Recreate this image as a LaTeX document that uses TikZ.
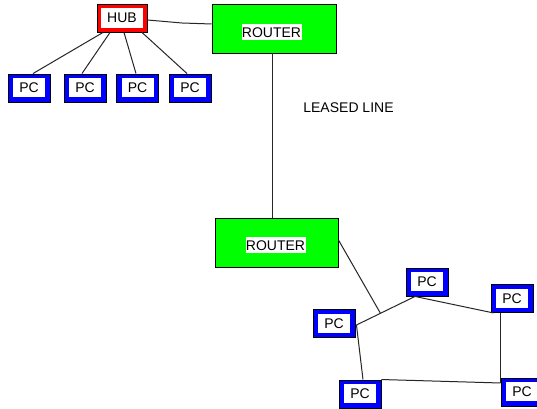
\documentclass[tikz,border=0pt]{standalone}
\usepackage{fontspec}
\setmainfont{Liberation Sans}
\usetikzlibrary{calc}
\definecolor{pcblue}{RGB}{0,0,255}
\definecolor{hubred}{RGB}{255,0,0}
\definecolor{rgreen}{RGB}{0,255,0}
\begin{document}
\begin{tikzpicture}[x=0.75pt,y=-0.75pt,
  frame/.style={draw=black, line width=0.7pt, inner sep=0pt},
  pcbox/.style={frame, fill=pcblue, minimum width=31.5pt, minimum height=21pt},
  hubbox/.style={frame, fill=hubred, minimum width=37.5pt, minimum height=21pt},
  routerbox/.style={frame, fill=rgreen, minimum width=92.5pt, minimum height=36.75pt},
  lbl/.style={fill=white, inner sep=0pt, font=\fontsize{10.5}{12}\selectfont},
  pclabel/.style={lbl, minimum width=24pt, minimum height=14.25pt},
  hublabel/.style={lbl, minimum width=31.5pt, minimum height=15pt},
  routerlabel/.style={lbl, minimum width=45pt, minimum height=12pt},
  link/.style={draw=black!85, line width=0.75pt}
]
\clip (0,0) rectangle (537,409);
\fill[white] (0,0) rectangle (537,409);

% top LAN
\node[hubbox] (hub) at (122,18) {};
\node[hublabel] (hubl) at (hub) {HUB};
\foreach \n/\x in {pc1/29, pc2/85, pc3/137.5, pc4/190}{
  \node[pcbox] (\n) at (\x,88) {};
  \node[pclabel] (\n l) at (\n) {PC};
}

% routers
\node[routerbox, minimum width=93pt] (r1) at (274,28.5) {};
\node[routerlabel] (r1l) at (271.5,32.5) {ROUTER};
\node[routerbox, minimum width=92.25pt] (r2) at (276.5,242.5) {};
\node[routerlabel] (r2l) at (275.5,245.5) {ROUTER};

\node[font=\fontsize{10.5}{12}\selectfont, inner sep=0pt] (leased) at (348.5,107.5) {LEASED LINE};

% bottom LAN
\node[pcbox] (pcA) at (334,323.5) {};
\node[pclabel] (pcAl) at (pcA) {PC};
\node[pcbox] (pcB) at (427,282) {};
\node[pclabel] (pcBl) at (pcB) {PC};
\node[pcbox] (pcC) at (512,298.5) {};
\node[pclabel] (pcCl) at (pcC) {PC};
\node[pcbox] (pcD) at (360,394) {};
\node[pclabel] (pcDl) at (pcD) {PC};
\node[pcbox] (pcE) at (522,392) {};
\node[pclabel] (pcEl) at (pcE) {PC};

% connectors top
\coordinate (bend1) at (182,23);
\draw[link] ($(hub.east)+(0,2)$) -- (bend1) -- ($(r1.west)+(0,-4.5)$);
\draw[link] ($(hub.south)+(-19,0)$) -- ($(pc1.north)+(4,0)$);
\draw[link] ($(hub.south)+(-12,0)$) -- ($(pc2.north)+(-3,0)$);
\draw[link] ($(hub.south)+(2,0)$) -- ($(pc3.north)+(-1.5,0)$);
\draw[link] ($(hub.south)+(20,0)$) -- ($(pc4.north)+(-3,0)$);

% leased line
\draw[link] ($(r1.south)+(-2,0)$) -- ($(r2.north)+(-4.5,0)$);

% bottom connectors
\coordinate (a1) at ($(pcA.east)+(1,1.5)$);
\coordinate (b1) at ($(pcB.south)+(-12,0)$);
\coordinate (c1) at ($(pcC.south west)+(3,0)$);
\coordinate (c2) at ($(pcC.south west)+(10,0)$);
\coordinate (e1) at ($(pcE.west)+(0,-9)$);
\coordinate (j) at ($(a1)!0.41!(b1)$);
\draw[link] ($(r2.east)+(0,-2.5)$) -- (j);
\draw[link] (a1) -- (b1) -- (c1);
\draw[link] (c2) -- (e1);
\draw[link] (a1) -- ($(pcD.north)+(3,0)$);
\draw[link] (pcD.north east) -- (e1);
\end{tikzpicture}
\end{document}
